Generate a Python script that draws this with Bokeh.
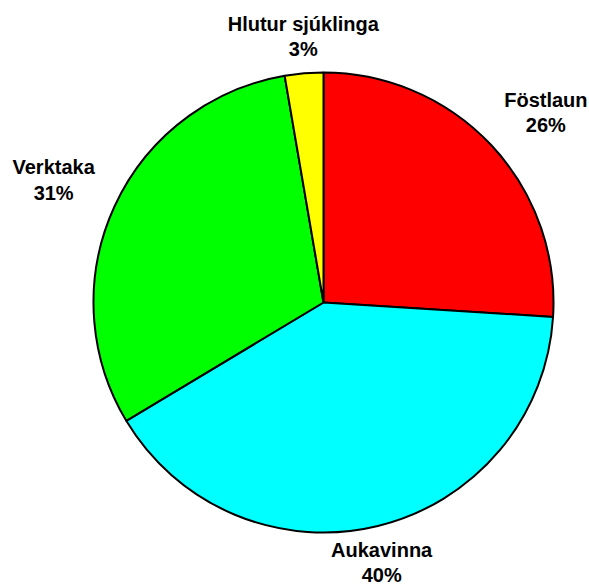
import math
from bokeh.plotting import figure
from bokeh.models import Range1d, ColumnDataSource
from bokeh.embed import file_html
from bokeh.resources import INLINE
from bokeh.core.properties import value

# ---- data ----
categories = ["Föstlaun", "Aukavinna", "Verktaka", "Hlutur sjúklinga"]
shares = [26.0, 40.4, 30.9, 2.7]
pct_labels = ["26%", "40%", "31%", "3%"]
colors = ["#FF0000", "#00FFFF", "#00FF00", "#FFFF00"]

# ---- layout (styles / positions) ----
W, H = 589, 587
CX, CY, R = 323.0, -302.0, 230.0
label_dist = [292, 267, 296, 266]
label_nudge = [2.8, 1.1, -0.4, 0.5]

total = sum(shares)
starts, ends, lx, ly1, ly2 = [], [], [], [], []
cum = 0.0
for i, s in enumerate(shares):
    a0 = math.pi / 2 - 2 * math.pi * cum / total
    cum += s
    a1 = math.pi / 2 - 2 * math.pi * cum / total
    starts.append(a0)
    ends.append(a1)
    mid_cw = 360.0 * (cum - s / 2) / total + label_nudge[i]
    t = math.radians(mid_cw)
    x = CX + label_dist[i] * math.sin(t)
    y = CY + label_dist[i] * math.cos(t)
    lx.append(x)
    ly1.append(y + 13.5)
    ly2.append(y - 12.2)

src = ColumnDataSource(dict(start=starts, end=ends, color=colors,
                            x=[CX] * 4, y=[CY] * 4))
lab = ColumnDataSource(dict(x=lx, y1=ly1, y2=ly2, name=categories, pct=pct_labels))

p = figure(width=W, height=H, output_backend="svg", toolbar_location=None,
           x_range=Range1d(0, W), y_range=Range1d(-H, 0),
           x_axis_type=None, y_axis_type=None, min_border=0,
           background_fill_color="white", border_fill_color="white")
p.outline_line_color = None
p.grid.visible = False

p.wedge(x="x", y="y", radius=R, start_angle="start", end_angle="end",
        direction="clock", fill_color="color", line_color="black",
        line_width=2, source=src)

common = dict(text_font=value("Liberation Sans"), text_font_style="bold",
              text_font_size="20px", text_color="black", text_align="center",
              text_baseline="alphabetic", source=lab)
p.text(x="x", y="y1", text="name", **common)
p.text(x="x", y="y2", text="pct", **common)

open("out.html", "w").write(file_html(p, INLINE))
